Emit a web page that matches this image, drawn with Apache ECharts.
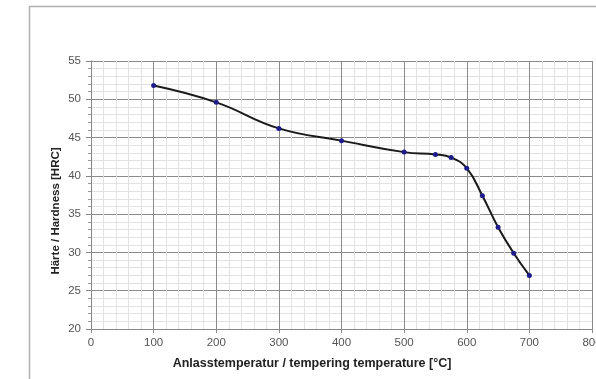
<!DOCTYPE html>
<html>
<head>
<meta charset="utf-8">
<script src="https://cdn.jsdelivr.net/npm/echarts@6/dist/echarts.min.js"></script>
<style>
  html, body { margin: 0; padding: 0; background: #fff; }
  #chart { width: 596px; height: 379px; }
</style>
</head>
<body>
<div id="chart"></div>
<script>
// Anlasstemperatur [°C]
const temps = [100, 200, 300, 400, 500, 550, 575, 600, 625, 650, 675, 700]
// Härte [HRC]
const hardness = [51.8, 49.6, 46.2, 44.6, 43.1, 42.8, 42.4, 41.0, 37.4, 33.3, 29.9, 27.0]

const xTicks = [0, 800, 100]   // min, max, interval
const yTicks = [20, 55, 5]

const chart = echarts.init(document.getElementById('chart'))

const axisText = { color: '#555', fontSize: 11.5, fontFamily: 'Liberation Sans, Arial, sans-serif' }

chart.setOption({
  animation: false,
  grid: { left: 91, top: 61, width: 501, height: 268, show: false, outerBoundsMode: 'none', containLabel: false },
  graphic: [
    {
      // äußerer Rahmen (rechts/unten abgeschnitten)
      type: 'rect',
      shape: { x: 29.5, y: 6.5, width: 700, height: 500 },
      style: { fill: 'none', stroke: '#b0b0b0', lineWidth: 1.5 },
      silent: true
    },
    {
      type: 'text',
      x: 312, y: 364,
      style: {
        text: 'Anlasstemperatur / tempering temperature [°C]',
        fontSize: 12.5, fontWeight: 'bold', fill: '#222',
        fontFamily: 'Liberation Sans, Arial, sans-serif',
        align: 'center', verticalAlign: 'middle'
      }
    },
    {
      type: 'text',
      x: 56, y: 211, rotation: Math.PI / 2,
      style: {
        text: 'Härte / Hardness [HRC]',
        fontSize: 11.5, fontWeight: 'bold', fill: '#222',
        fontFamily: 'Liberation Sans, Arial, sans-serif',
        align: 'center', verticalAlign: 'middle'
      }
    }
  ],
  xAxis: {
    type: 'value',
    min: xTicks[0], max: xTicks[1], interval: xTicks[2],
    axisLine: { show: true, lineStyle: { color: '#888', width: 1 } },
    axisTick: { show: true, length: 4, lineStyle: { color: '#888' } },
    minorTick: { show: false, splitNumber: 5 },
    axisLabel: Object.assign({ margin: 8 }, axisText),
    splitLine: { show: true, lineStyle: { color: '#8a8a8a', width: 1 } },
    minorSplitLine: { show: true, lineStyle: { color: '#e2e2e2', width: 1 } }
  },
  yAxis: {
    type: 'value',
    min: yTicks[0], max: yTicks[1], interval: yTicks[2],
    axisLine: { show: true, lineStyle: { color: '#888', width: 1 } },
    axisTick: { show: true, length: 5, lineStyle: { color: '#888' } },
    minorTick: { show: true, splitNumber: 5, length: 3, lineStyle: { color: '#999' } },
    axisLabel: Object.assign({ margin: 10 }, axisText),
    splitLine: { show: true, lineStyle: { color: '#8a8a8a', width: 1 } },
    minorSplitLine: { show: true, lineStyle: { color: '#e2e2e2', width: 1 } }
  },
  series: [{
    type: 'line',
    data: temps.map((t, i) => [t, hardness[i]]),
    smooth: 0.45,
    symbol: 'circle',
    symbolSize: 5,
    itemStyle: { color: '#1c1c8a' },
    lineStyle: { color: '#1a1a1a', width: 2 }
  }]
})
</script>
</body>
</html>
